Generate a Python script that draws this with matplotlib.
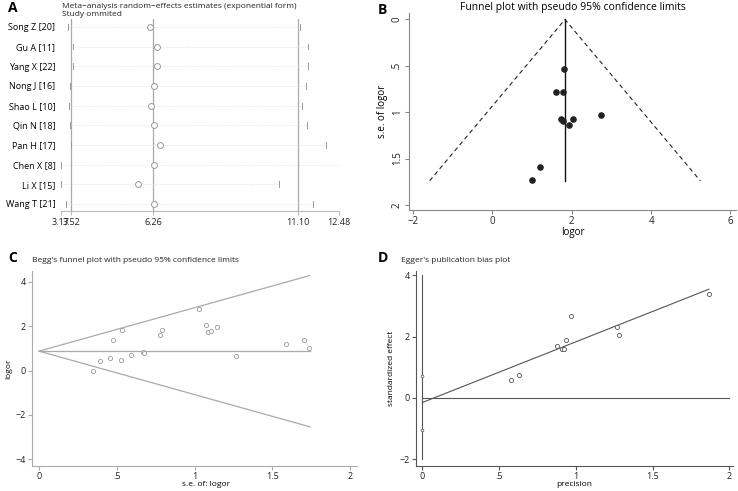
import numpy as np
import matplotlib
matplotlib.use("Agg")
import matplotlib.pyplot as plt

plt.rcParams['font.family'] = ['Open Sans', 'DejaVu Sans']

# Panel A: leave-one-out sensitivity analysis
studies = ["Song Z [20]", "Gu A [11]", "Yang X [22]", "Nong J [16]", "Shao L [10]",
           "Qin N [18]", "Pan H [17]", "Chen X [8]", "Li X [15]", "Wang T [21]"]
est_a = [6.15, 6.40, 6.37, 6.27, 6.20, 6.30, 6.49, 6.28, 5.75, 6.27]
low_a = [3.39, 3.56, 3.56, 3.46, 3.43, 3.46, 3.49, 3.17, 3.17, 3.35]
up_a = [11.19, 11.45, 11.45, 11.39, 11.23, 11.42, 12.06, 12.47, 10.47, 11.62]
overall_a = [3.52, 6.26, 11.10]
ticks_a = [3.17, 3.52, 6.26, 11.10, 12.48]

# Panel B: funnel plot
logor_b = [1.81, 1.60, 1.79, 1.73, 1.77, 2.02, 1.94, 2.75, 1.20, 1.01]
se_b = [0.535, 0.78, 0.786, 1.077, 1.10, 1.07, 1.14, 1.03, 1.587, 1.73]
pooled_b = 1.83
se_max_b = 1.74

# Panel C: Begg's funnel plot
se_c = [0.348, 0.39, 0.457, 0.476, 0.528, 0.536, 0.59, 0.67, 0.674, 0.779,
        0.79, 1.03, 1.073, 1.084, 1.103, 1.144, 1.268, 1.588, 1.70, 1.736]
logor_c = [0.00, 0.446, 0.55, 1.37, 0.49, 1.83, 0.71, 0.82, 0.80, 1.60,
           1.81, 2.76, 2.04, 1.74, 1.78, 1.95, 0.64, 1.22, 1.37, 1.03]
pooled_c = 0.877
se_max_c = 1.74

# Panel D: Egger's plot
prec_d = [0.575, 0.63, 0.875, 0.91, 0.925, 0.934, 0.97, 1.268, 1.283, 1.867]
std_d = [0.60, 0.76, 1.70, 1.60, 1.60, 1.89, 2.68, 2.30, 2.05, 3.38]
intercept_ci_d = [0.73, -1.06]
intercept_d = -0.15
slope_d = 1.98

W, H = 738, 491
fig = plt.figure(figsize=(W / 100, H / 100), dpi=100)


def box(l, t, r, b):
    return fig.add_axes([l / W, 1 - b / H, (r - l) / W, (b - t) / H])


def stata_axes(ax, col='#888888', size=7):
    for s in ['top', 'right']:
        ax.spines[s].set_visible(False)
    for s in ['left', 'bottom']:
        ax.spines[s].set_color(col)
        ax.spines[s].set_linewidth(0.8)
    ax.tick_params(colors=col, labelcolor='#222222', labelsize=size, length=3, width=0.8, pad=1.5)


# ---- A ----
axA = box(61, 19, 339, 211)
n = len(studies)
ypos = np.arange(n, 0, -1)
for v in overall_a:
    axA.axvline(v, color='#aaaaaa', lw=0.9)
for i in range(n):
    axA.plot([low_a[i], up_a[i]], [ypos[i], ypos[i]], color='#dddddd', lw=0.6, ls=(0, (1, 1.5)))
    axA.plot([low_a[i], low_a[i]], [ypos[i] - 0.15, ypos[i] + 0.15], color='#999999', lw=0.7)
    axA.plot([up_a[i], up_a[i]], [ypos[i] - 0.15, ypos[i] + 0.15], color='#999999', lw=0.7)
axA.scatter(est_a, ypos, s=18, facecolors='white', edgecolors='#999999', linewidths=0.7, zorder=3)
axA.set_xlim(3.17, 12.48)
axA.set_ylim(0.64, 10.4)
axA.set_yticks(ypos)
axA.set_yticklabels(studies)
axA.set_xticks(ticks_a)
axA.set_xticklabels(["3.17", "3.52", "6.26", "11.10", "12.48"])
for s in ['top', 'right', 'left']:
    axA.spines[s].set_visible(False)
axA.spines['bottom'].set_color('#bbbbbb')
axA.tick_params(axis='y', length=0, labelsize=6.5, pad=4)
axA.tick_params(axis='x', colors='#bbbbbb', labelcolor='#222222', labelsize=6.5, length=3, pad=2)
fig.text(62 / W, 1 - 6 / H, "Meta\u2212analysis random\u2212effects estimates (exponential form)",
         fontsize=6, va='center', ha='left', color='#222222')
fig.text(62 / W, 1 - 14 / H, "Study ommited", fontsize=6, va='center', ha='left', color='#222222')
fig.text(8 / W, 1 - 8 / H, "A", fontsize=10, fontweight='bold', va='center')

# ---- B ----
axB = box(409, 13, 736, 210)
xb = [pooled_b - 1.96 * se_max_b, pooled_b, pooled_b + 1.96 * se_max_b]
yb = [se_max_b, 0, se_max_b]
axB.plot(xb, yb, color='#222222', lw=0.8, ls=(0, (4, 3)))
axB.plot([pooled_b, pooled_b], [0, se_max_b], color='#111111', lw=1.0)
axB.scatter(logor_b, se_b, s=14, color='#222222', zorder=3)
axB.set_xlim(-2.1, 6.14)
axB.set_ylim(2.055, -0.07)
axB.set_xticks([-2, 0, 2, 4, 6])
axB.set_xticklabels(["\u22122", "0", "2", "4", "6"])
axB.set_yticks([0, 0.5, 1, 1.5, 2])
axB.set_yticklabels(["0", ".5", "1", "1.5", "2"], rotation=90, va='center')
stata_axes(axB)
axB.set_xlabel("logor", fontsize=7, labelpad=0)
axB.set_ylabel("s.e. of logor", fontsize=7, labelpad=3)
axB.set_title("Funnel plot with pseudo 95% confidence limits", fontsize=7.5, pad=2, x=0.5)
fig.text(378 / W, 1 - 10 / H, "B", fontsize=10, fontweight='bold', va='center')

# ---- C ----
axC = box(32, 271, 357, 466)
axC.plot([0, se_max_c], [pooled_c, pooled_c], color='#aaaaaa', lw=0.9)
axC.plot([0, se_max_c], [pooled_c, pooled_c + 1.96 * se_max_c], color='#aaaaaa', lw=0.9)
axC.plot([0, se_max_c], [pooled_c, pooled_c - 1.96 * se_max_c], color='#aaaaaa', lw=0.9)
axC.scatter(se_c, logor_c, s=9, facecolors='white', edgecolors='#999999', linewidths=0.6, zorder=3)
axC.set_xlim(-0.045, 2.043)
axC.set_ylim(-4.3, 4.49)
axC.set_xticks([0, 0.5, 1, 1.5, 2])
axC.set_xticklabels(["0", ".5", "1", "1.5", "2"])
axC.set_yticks([-4, -2, 0, 2, 4])
axC.set_yticklabels(["\u22124", "\u22122", "0", "2", "4"])
stata_axes(axC, '#aaaaaa', 6.5)
axC.set_xlabel("s.e. of: logor", fontsize=6, labelpad=0)
axC.xaxis.set_label_coords(0.535, -0.075, transform=axC.transAxes)
axC.xaxis.label.set_va('top')
axC.set_ylabel("logor", fontsize=6, labelpad=2)
fig.text(32 / W, 1 - 260 / H, "Begg's funnel plot with pseudo 95% confidence limits",
         fontsize=6, va='center', ha='left', color='#222222')
fig.text(8 / W, 1 - 258 / H, "C", fontsize=10, fontweight='bold', va='center')

# ---- D ----
axD = box(416, 271, 733, 466)
axD.plot([0, 0], [-2, 4], color='#555555', lw=0.8)
axD.plot([0, 2], [0, 0], color='#555555', lw=0.8)
xr = np.array([0, max(prec_d)])
axD.plot(xr, intercept_d + slope_d * xr, color='#555555', lw=0.8)
axD.scatter(prec_d, std_d, s=9, facecolors='white', edgecolors='#555555', linewidths=0.6, zorder=3)
axD.scatter([0, 0], intercept_ci_d, s=4, facecolors='white', edgecolors='#555555',
            linewidths=0.5, zorder=3)
axD.set_xlim(-0.041, 2.024)
axD.set_ylim(-2.22, 4.14)
axD.set_xticks([0, 0.5, 1, 1.5, 2])
axD.set_xticklabels(["0", ".5", "1", "1.5", "2"])
axD.set_yticks([-2, 0, 2, 4])
axD.set_yticklabels(["\u22122", "0", "2", "4"])
stata_axes(axD, '#555555', 6.5)
axD.set_xlabel("precision", fontsize=6, labelpad=0)
axD.set_ylabel("standardized effect", fontsize=6, labelpad=3)
fig.text(401 / W, 1 - 260 / H, "Egger's publication bias plot",
         fontsize=6, va='center', ha='left', color='#222222')
fig.text(378 / W, 1 - 258 / H, "D", fontsize=10, fontweight='bold', va='center')

fig.savefig("out.png", dpi=100)
